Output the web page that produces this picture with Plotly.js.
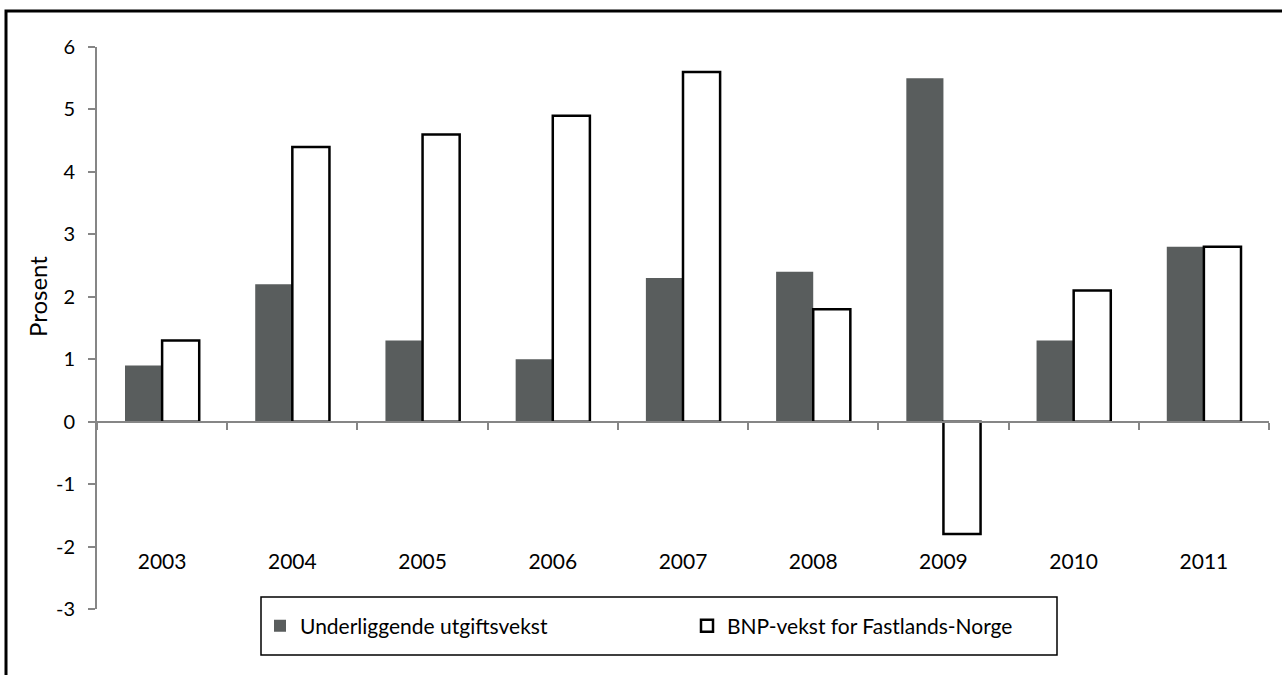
<!DOCTYPE html>
<html>
<head>
<meta charset="utf-8">
<script src="https://cdn.plot.ly/plotly-3.0.1.min.js"></script>
<style>
html,body{margin:0;padding:0;background:#fff;}
#chart{width:1282px;height:675px;}
</style>
</head>
<body>
<div id="chart"></div>
<script>
const years = ['2003','2004','2005','2006','2007','2008','2009','2010','2011'];
const underliggende = [0.9, 2.2, 1.3, 1.0, 2.3, 2.4, 5.5, 1.3, 2.8];
const bnpFastland = [1.3, 4.4, 4.6, 4.9, 5.6, 1.8, -1.8, 2.1, 2.8];
const seriesNames = ['Underliggende utgiftsvekst', 'BNP-vekst for Fastlands-Norge'];
const yTicks = [-3, -2, -1, 0, 1, 2, 3, 4, 5, 6];
const yTitle = 'Prosent';

const W = 1282, H = 675;
const M = {l: 97, r: 13, t: 47, b: 66};
const pw = W - M.l - M.r, ph = H - M.t - M.b;
const px = x => (x - M.l) / pw;
const py = y => (H - M.b - y) / ph;
const yMin = -3, yMax = 6;
const FONT = 'Lato, "Open Sans", sans-serif';

const traces = [
  {
    type: 'bar', x: years, y: underliggende, name: seriesNames[0],
    marker: {color: '#595d5d', line: {width: 0}}
  },
  {
    type: 'bar', x: years, y: bnpFastland, name: seriesNames[1],
    marker: {color: '#ffffff', line: {color: '#000000', width: 2.5}}
  }
];

const layout = {
  width: W, height: H,
  margin: M,
  paper_bgcolor: '#ffffff', plot_bgcolor: '#ffffff',
  font: {family: FONT, color: '#000000'},
  barmode: 'group', bargap: 0.43, bargroupgap: 0,
  showlegend: true,
  legend: {
    orientation: 'h', x: px(260), xanchor: 'left', y: py(626), yanchor: 'middle',
    bgcolor: 'rgba(0,0,0,0)', borderwidth: 0,
    font: {size: 21, family: FONT, color: '#000'},
    entrywidth: 382, entrywidthmode: 'pixels', traceorder: 'normal'
  },
  xaxis: {
    type: 'category', anchor: 'free', position: (0 - yMin) / (yMax - yMin),
    showline: true, linecolor: '#868686', linewidth: 2,
    ticks: 'outside', tickson: 'boundaries', ticklen: 7, tickwidth: 2, tickcolor: '#868686',
    showgrid: false, zeroline: false,
    tickfont: {size: 21, color: '#000', family: FONT}, ticklabelstandoff: 121,
    fixedrange: true
  },
  yaxis: {
    range: [yMin, yMax], tickvals: yTicks, ticktext: yTicks.map(String),
    showline: true, linecolor: '#868686', linewidth: 2,
    ticks: 'outside', ticklen: 7, tickwidth: 2, tickcolor: '#868686',
    showgrid: false, zeroline: false,
    tickfont: {size: 20, color: '#000', family: FONT}, ticklabelstandoff: 9,
    fixedrange: true
  },
  annotations: [
    {
      text: yTitle, xref: 'paper', yref: 'paper', x: px(37), y: py(297),
      xanchor: 'center', yanchor: 'middle', textangle: -90, showarrow: false,
      font: {size: 24, color: '#000', family: FONT}
    }
  ],
  shapes: [
    {type: 'rect', xref: 'paper', yref: 'paper', x0: px(261), x1: px(1057), y0: py(655), y1: py(597),
     line: {color: '#000000', width: 1.5}, fillcolor: 'rgba(0,0,0,0)', layer: 'below'},
    {type: 'rect', xref: 'paper', yref: 'paper', x0: px(6), x1: px(1300), y0: py(700), y1: py(11),
     line: {color: '#000000', width: 3}, fillcolor: 'rgba(0,0,0,0)', layer: 'below'}
  ]
};

Plotly.newPlot('chart', traces, layout, {displayModeBar: false, staticPlot: true});
</script>
</body>
</html>
